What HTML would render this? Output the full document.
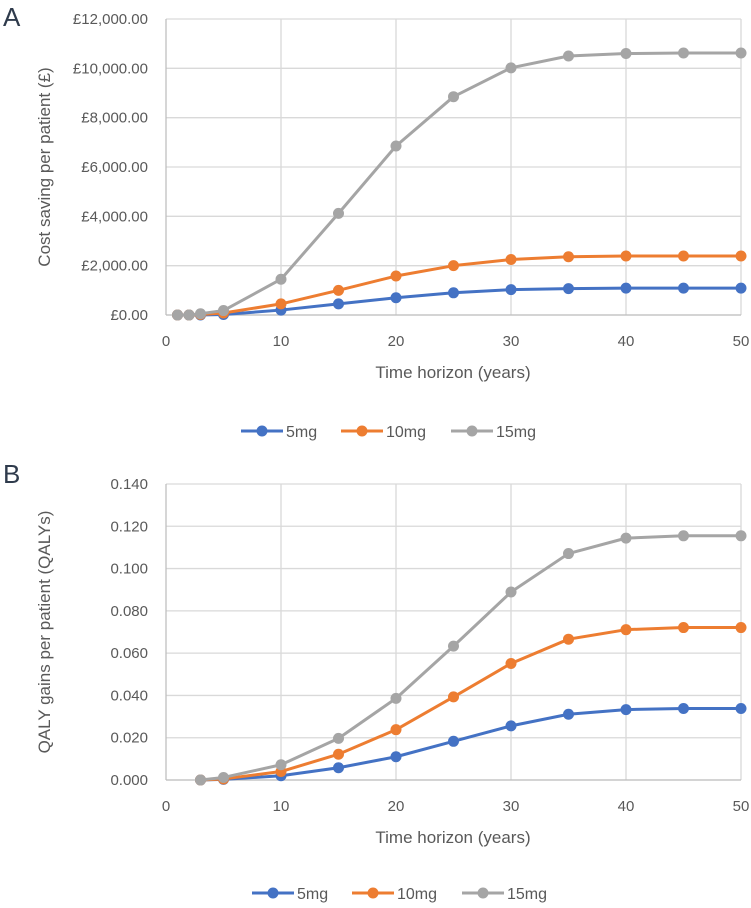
<!DOCTYPE html>
<html><head><meta charset="utf-8"><style>
body{margin:0;background:#fff;}
svg text{font-family:"Liberation Sans",sans-serif;}
</style></head><body>
<svg id="svg" width="751" height="903" xmlns="http://www.w3.org/2000/svg"></svg>
<script>
const years = [1,2,3,5,10,15,20,25,30,35,40,45,50];
const costSeries5 = [0,0,0,20,200,450,700,900,1030,1070,1090,1090,1090];
const costSeries10 = [0,0,20,80,450,1000,1580,2000,2250,2360,2390,2390,2390];
const costSeries15 = [0,0,50,180,1450,4120,6850,8850,10020,10500,10600,10620,10620];
const costTicks = ["£0.00","£2,000.00","£4,000.00","£6,000.00","£8,000.00","£10,000.00","£12,000.00"];
const qalyYears = [3,5,10,15,20,25,30,35,40,45,50];
const qalySeries5 = [0,0.0003,0.002,0.0058,0.011,0.0183,0.0256,0.0311,0.0333,0.0338,0.0338];
const qalySeries10 = [0,0.0005,0.004,0.0122,0.0238,0.0393,0.0551,0.0666,0.0711,0.0721,0.0721];
const qalySeries15 = [0,0.0012,0.0072,0.0197,0.0386,0.0633,0.0889,0.1071,0.1144,0.1155,0.1155];
const qalyTicks = ["0.000","0.020","0.040","0.060","0.080","0.100","0.120","0.140"];
const xTicks = [0,10,20,30,40,50];
const seriesNames = ["5mg","10mg","15mg"];
const colors = ["#4472c4","#ed7d31","#a5a5a5"];

const svg = document.getElementById('svg');
const NS = "http://www.w3.org/2000/svg";
function mk(tag, attrs, parent){
  const e = document.createElementNS(NS, tag);
  for (const k in attrs) e.setAttribute(k, attrs[k]);
  (parent||svg).appendChild(e);
  return e;
}

function drawChart(cfg){
  const g = mk('g', {});
  
  
  const x0=166, x1=741;
  const xs = v => x0 + (v/50)*(x1-x0);
  const ys = v => cfg.yBottom - (v/cfg.yMax)*(cfg.yBottom-cfg.yTop);
  // letter
  const L = mk('text', {x:3, y:cfg.letterY, 'font-size':26, fill:'#2f3b4c'}, g);
  L.textContent = cfg.letter;
  
  
  // gridlines
  const n = cfg.ticks.length-1;
  for (let i=0;i<=n;i++){
    const v = cfg.yMax*i/n, y = ys(v);
    const gl = mk('line', {x1:x0, x2:x1, y1:y, y2:y, stroke:'#d9d9d9', 'stroke-width':1.3}, g);
    
    
    const t = mk('text', {x:148, y:y+5, 'text-anchor':'end', 'font-size':15, fill:'#595959'}, g);
    t.textContent = cfg.ticks[i];
    
    
  }
  xTicks.forEach(v=>{
    const x = xs(v);
    if (v>0){
      const gl = mk('line', {x1:x, x2:x, y1:cfg.yTop, y2:cfg.yBottom, stroke:'#d9d9d9', 'stroke-width':1.3}, g);
      
      
    }
    const t = mk('text', {x:x, y:cfg.yBottom+31, 'text-anchor':'middle', 'font-size':15, fill:'#595959'}, g);
    t.textContent = v;
    
    
  });
  const ax = mk('line', {x1:x0, x2:x0, y1:cfg.yTop, y2:cfg.yBottom, stroke:'#bfbfbf', 'stroke-width':1.3}, g);
  
  
  const xa = mk('line', {x1:x0, x2:x1, y1:cfg.yBottom, y2:cfg.yBottom, stroke:'#bfbfbf', 'stroke-width':1.3}, g);
  
  
  // titles
  const xt = mk('text', {x:453, y:cfg.yBottom+63, 'text-anchor':'middle', 'font-size':17, fill:'#595959'}, g);
  xt.textContent = 'Time horizon (years)';
  
  
  const yc = (cfg.yTop+cfg.yBottom)/2;
  const yt = mk('text', {x:0, y:0, 'text-anchor':'middle', 'font-size':17, fill:'#595959', transform:`translate(50,${yc}) rotate(-90)`}, g);
  yt.textContent = cfg.yTitle;
  
  
  // series
  cfg.series.forEach((s,si)=>{
    const sg = mk('g', {}, g);
    
    
    const pts = s.map((v,i)=>xs(cfg.xv[i])+','+ys(v)).join(' ');
    const pl = mk('polyline', {points:pts, fill:'none', stroke:colors[si], 'stroke-width':3, 'stroke-linejoin':'round'}, sg);
    
    
    s.forEach((v,i)=>{
      const c = mk('circle', {cx:xs(cfg.xv[i]), cy:ys(v), r:5.5, fill:colors[si]}, sg);
      
      
    });
  });
  // legend
  const lg = mk('g', {}, g);
  
  
  const lx = [cfg.legendX, cfg.legendX+100, cfg.legendX+210];
  seriesNames.forEach((nm,i)=>{
    const eg = mk('g', {}, lg);
    
    
    mk('line', {x1:lx[i], x2:lx[i]+42, y1:cfg.legendY, y2:cfg.legendY, stroke:colors[i], 'stroke-width':3}, eg);
    mk('circle', {cx:lx[i]+21, cy:cfg.legendY, r:5.5, fill:colors[i]}, eg);
    const t = mk('text', {x:lx[i]+45, y:cfg.legendY+6, 'font-size':16, fill:'#595959'}, eg);
    t.textContent = nm;
  });
}

drawChart({name:'cost-saving-chart', letter:'A', letterY:26, yTop:19, yBottom:315, yMax:12000,
  ticks:costTicks, xv:years, series:[costSeries5,costSeries10,costSeries15],
  yTitle:'Cost saving per patient (£)', legendY:431, legendX:241});
drawChart({name:'qaly-gain-chart', letter:'B', letterY:483, yTop:484, yBottom:780, yMax:0.14,
  ticks:qalyTicks, xv:qalyYears, series:[qalySeries5,qalySeries10,qalySeries15],
  yTitle:'QALY gains per patient (QALYs)', legendY:893, legendX:252});
</script>
</body></html>
